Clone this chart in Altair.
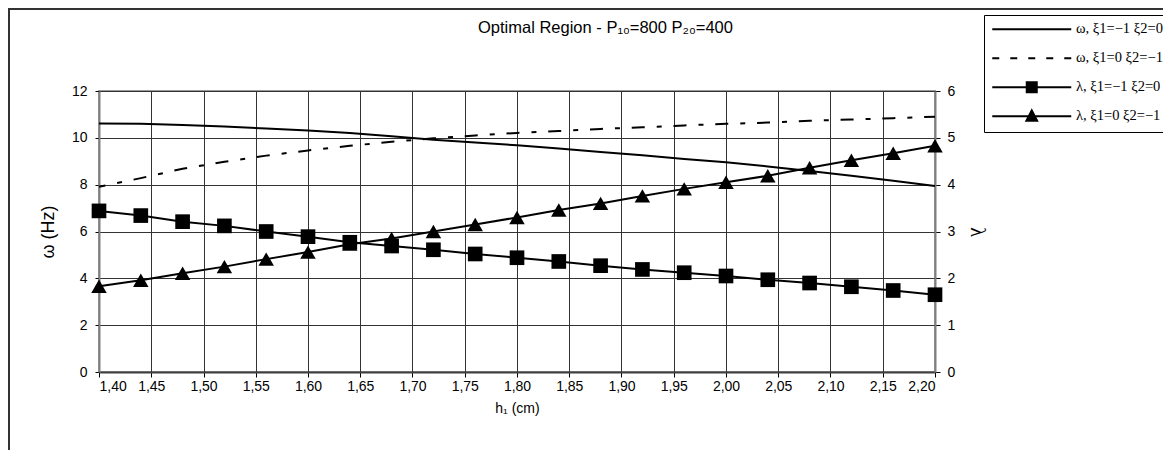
import altair as alt
import pandas as pd

# ---- data ----
h = [1.40, 1.44, 1.48, 1.52, 1.56, 1.60, 1.64, 1.68, 1.72, 1.76, 1.80,
     1.84, 1.88, 1.92, 1.96, 2.00, 2.04, 2.08, 2.12, 2.16, 2.20]

omega_solid = [10.61, 10.60, 10.55, 10.48, 10.40, 10.31, 10.21, 10.07, 9.92, 9.80, 9.68,
               9.54, 9.40, 9.26, 9.10, 8.96, 8.78, 8.58, 8.38, 8.17, 7.94]
omega_dashed = [7.91, 8.28, 8.68, 8.98, 9.24, 9.46, 9.66, 9.83, 9.98, 10.10, 10.21,
                10.29, 10.38, 10.45, 10.53, 10.60, 10.65, 10.73, 10.78, 10.84, 10.90]
lambda_square = [3.44, 3.34, 3.21, 3.12, 3.00, 2.89, 2.77, 2.69, 2.61, 2.52, 2.44,
                 2.36, 2.27, 2.19, 2.12, 2.05, 1.97, 1.90, 1.82, 1.74, 1.65]
lambda_triangle = [1.83, 1.96, 2.11, 2.25, 2.41, 2.56, 2.73, 2.85, 3.00, 3.15, 3.30,
                   3.46, 3.60, 3.76, 3.91, 4.05, 4.19, 4.36, 4.52, 4.67, 4.83]

x_ticks = [1.40, 1.45, 1.50, 1.55, 1.60, 1.65, 1.70, 1.75, 1.80, 1.85, 1.90,
           1.95, 2.00, 2.05, 2.10, 2.15, 2.20]
omega_ticks = [0, 2, 4, 6, 8, 10, 12]
lambda_ticks = [0, 1, 2, 3, 4, 5, 6]

series_names = ["ω, ξ1=−1 ξ2=0", "ω, ξ1=0 ξ2=−1", "λ, ξ1=−1 ξ2=0", "λ, ξ1=0 ξ2=−1"]
# legend swatches (filled outlines, unit = half symbol width)
_bounds = "M0,-1.6M0,1.6M30,0"
_line = "M-7.9,-0.2H7.9V0.2H-7.9Z"
legend_paths = [
    _bounds + _line,
    _bounds + "M-7.9,-0.2H-6.5V0.2H-7.9Z" + "M-4.3,-0.2H-2.9V0.2H-4.3Z"
    + "M-0.7,-0.2H0.7V0.2H-0.7Z" + "M2.9,-0.2H4.3V0.2H2.9Z" + "M6.5,-0.2H7.9V0.2H6.5Z",
    _bounds + _line + "M-1.2,-1.2H1.2V1.2H-1.2Z",
    _bounds + _line + "M0,-1.6L1.4,1.1H-1.4Z",
]
title_text = "Optimal Region - P₁₀=800 P₂₀=400"

# ---- tables ----
n = len(h)
om_df = pd.DataFrame({"h": h + h, "value": omega_solid + omega_dashed,
                      "series": [series_names[0]] * n + [series_names[1]] * n})
lam_df = pd.DataFrame({"h": h + h, "value": lambda_square + lambda_triangle,
                       "series": [series_names[2]] * n + [series_names[3]] * n})
legend_df = pd.DataFrame({"series": series_names})
title_df = pd.DataFrame({"text": [title_text]})
frame_df = pd.DataFrame({"k": [0]})

x_enc = alt.X("h:Q", scale=alt.Scale(domain=[1.4, 2.2], nice=False, zero=False),
              axis=alt.Axis(values=x_ticks,
                            labelExpr="replace(format(datum.value, '.2f'), '.', ',')",
                            title="h₁ (cm)", grid=True, tickSize=5, labelPadding=2,
                            titlePadding=8, domainColor="#404040"))
y_om = alt.Y("value:Q", scale=alt.Scale(domain=[0, 12], nice=False),
             axis=alt.Axis(values=omega_ticks, title="ω (Hz)", grid=True, tickSize=4,
                           labelPadding=8, titlePadding=14, titleFontSize=18))
y_lam = alt.Y("value:Q", scale=alt.Scale(domain=[0, 6], nice=False),
              axis=alt.Axis(orient="right", values=lambda_ticks, title="λ", grid=False,
                            tickSize=5, labelPadding=7, titlePadding=12, titleFontSize=20,
                            titleFont="Liberation Serif"))

border = alt.Chart(frame_df).mark_rect(fill="transparent", stroke="#333333", strokeWidth=2,
                                       clip=False).encode(
    x=alt.value(-90), x2=alt.value(1300), y=alt.value(-82), y2=alt.value(700))

title = alt.Chart(title_df).mark_text(font="Liberation Sans", fontSize=16.5, align="left",
                                      baseline="middle", color="black", clip=False).encode(
    text="text:N", x=alt.value(379), y=alt.value(-63))

om_solid = alt.Chart(om_df).transform_filter(alt.datum.series == series_names[0]).mark_line(
    color="black", strokeWidth=2).encode(x=x_enc, y=y_om)
om_dash = alt.Chart(om_df).transform_filter(alt.datum.series == series_names[1]).mark_line(
    color="black", strokeWidth=2, strokeDash=[13, 12, 5, 11.8], strokeDashOffset=6.5).encode(
    x=x_enc, y=y_om)

lam_lines = alt.Chart(lam_df).mark_line(color="black", strokeWidth=2).encode(
    x=x_enc, y=y_lam, detail="series:N")
squares = alt.Chart(lam_df).transform_filter(alt.datum.series == series_names[2]).mark_point(
    shape="square", filled=True, size=215, color="black", opacity=1).encode(x=x_enc, y=y_lam)
triangles = alt.Chart(lam_df).transform_filter(alt.datum.series == series_names[3]).mark_point(
    shape="triangle-up", filled=True, size=240, color="black", opacity=1).encode(x=x_enc, y=y_lam)

legend_layer = alt.Chart(legend_df).mark_point(
    filled=False, color="black", fill="black", opacity=0, size=100).encode(
    shape=alt.Shape("series:N", scale=alt.Scale(domain=series_names, range=legend_paths),
                    legend=alt.Legend(orient="none", legendX=885, legendY=-76, title=None,
                                      direction="vertical",
                                      labelFont="Liberation Serif", labelFontSize=14.5,
                                      labelColor="black", labelLimit=300,
                                      symbolSize=100, symbolStrokeWidth=0, symbolOpacity=1,
                                      symbolFillColor="black", symbolStrokeColor="black",
                                      symbolOffset=33.5, labelOffset=37, rowPadding=12,
                                      padding=7, strokeColor="black", fillColor="white")))

omega_layer = alt.layer(border, title, om_solid, om_dash)
lam_layer = alt.layer(lam_lines, squares, triangles, legend_layer)

chart = alt.layer(omega_layer, lam_layer).resolve_scale(y="independent").properties(
    width=836, height=281,
    autosize=alt.AutoSizeParams(type="none"),
    padding={"left": 91, "top": 83, "right": 228, "bottom": 78},
).configure_axis(
    labelFont="Liberation Sans", labelFontSize=14, labelColor="black",
    titleFont="Liberation Sans", titleFontSize=14, titleFontWeight="normal", titleColor="black",
    tickColor="black", gridColor="#333333", gridWidth=1, domainColor="#808080", domainWidth=2,
).configure_view(stroke="#999999", strokeWidth=2)

chart.save("out.html", embed_options={"renderer": "svg", "actions": False})
